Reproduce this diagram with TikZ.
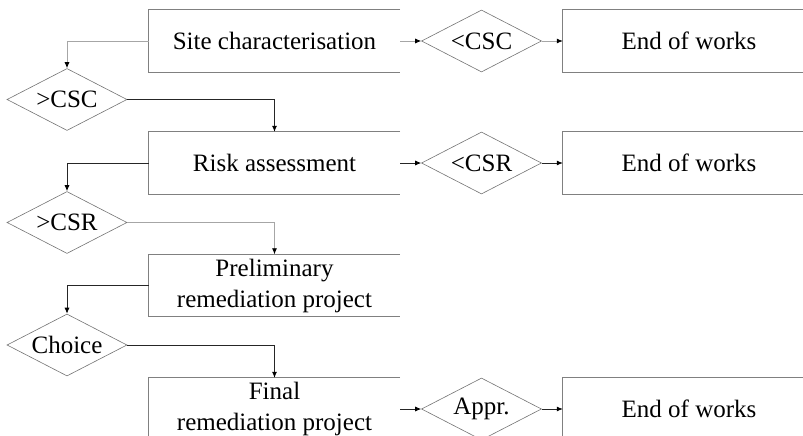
\documentclass[tikz,border=0pt]{standalone}
\usepackage{fontspec}
\setmainfont{Liberation Serif}
\usetikzlibrary{shapes.geometric,arrows.meta}
\begin{document}
\begin{tikzpicture}[x=1pt,y=-1pt,
  txt/.style={font=\fontsize{25}{31}\selectfont, align=center},
  boxnode/.style={txt, minimum width=251pt, minimum height=62pt, inner sep=0pt},
  endnode/.style={txt, minimum width=252pt, minimum height=62pt, inner sep=0pt},
  border/.style={draw=black!50, line width=1.1pt},
  dia/.style={txt, shape=diamond, draw=black!55, line width=0.6pt, minimum width=120pt, minimum height=62pt, inner sep=0pt, aspect=1.94},
  conn/.style={line width=0.8pt, draw=black!85, -{Latex[length=6pt,width=5pt,black]}},
  lconn/.style={line width=0.8pt, draw=black!35, -{Latex[length=6pt,width=5pt,black]}}
]
\useasboundingbox (0,0) rectangle (803,436);
\clip (0,0) rectangle (803,436);
% main boxes
\node[boxnode] (b1) at (274.5,41) {Site characterisation};
\node[boxnode] (b2) at (274.5,163) {Risk assessment};
\node[boxnode] (b3) at (274.5,285.5) {Preliminary\\remediation project};
\node[boxnode] (b4) at (274.5,409) {Final\\remediation project};
\foreach \b in {b1,b2,b3,b4}{
  \draw[border] (\b.north east) -- (\b.north west) -- (\b.south west) -- (\b.south east);
}
% end boxes
\node[endnode] (e1) at (689,41) {End of works};
\node[endnode] (e2) at (689,163) {End of works};
\node[endnode] (e4) at (689,409) {End of works};
\foreach \b in {e1,e2,e4}{
  \draw[border] (\b.north east) -- (\b.north west) -- (\b.south west) -- (\b.south east);
}
% left diamonds
\node[dia] (d1) at (67,99.5) {>CSC};
\node[dia] (d2) at (67,222.5) {>CSR};
\node[dia] (d3) at (67,345) {Choice};
% right diamonds
\node[dia] (r1) at (481.5,41) {<CSC};
\node[dia] (r2) at (481.5,163) {<CSR};
\node[dia] (r4) at (481.5,409) {Appr.};
% connectors down the left
\draw[lconn] (b1.west) -| (d1.north);
\draw[conn] (d1.east) -| (b2.north);
\draw[conn] (b2.west) -| (d2.north);
\draw[lconn] (d2.east) -| (b3.north);
\draw[conn] (b3.west) -| (d3.north);
\draw[conn] (d3.east) -| (b4.north);
% connectors to the right
\draw[lconn] (b1.east) -- (r1.west);
\draw[lconn] (r1.east) -- (e1.west);
\draw[conn] (b2.east) -- (r2.west);
\draw[conn] (r2.east) -- (e2.west);
\draw[conn] (b4.east) -- (r4.west);
\draw[conn] (r4.east) -- (e4.west);
\end{tikzpicture}
\end{document}
